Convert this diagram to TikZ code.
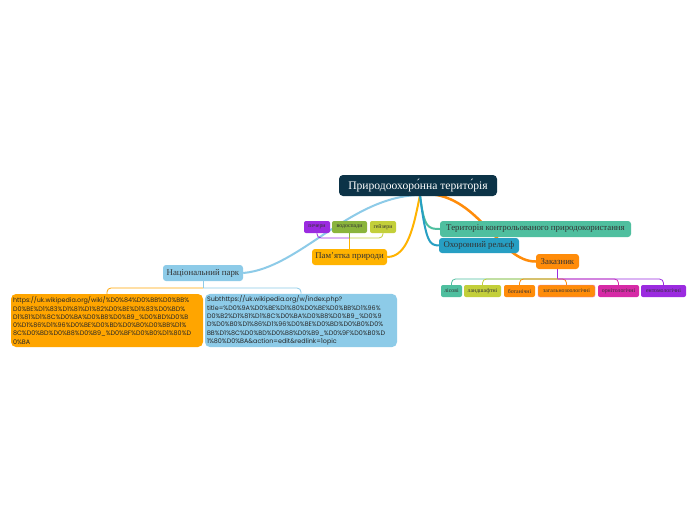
\documentclass[tikz,border=0pt]{standalone}
\usepackage{fontspec}
\usepackage{tikz}
\usetikzlibrary{backgrounds}
\setmainfont{Liberation Serif}
\newfontfamily\linkfont{Poppins}
\definecolor{navyc}{HTML}{0C3347}
\definecolor{tealc}{HTML}{4FBF9F}
\definecolor{bluec}{HTML}{279FC3}
\definecolor{orangec}{HTML}{FF8C0A}
\definecolor{goldc}{HTML}{FFB300}
\definecolor{skyc}{HTML}{8DCBE8}
\definecolor{purplec}{HTML}{9B2BE0}
\definecolor{olivec}{HTML}{8AB43C}
\definecolor{limec}{HTML}{C3CF3A}
\definecolor{magentac}{HTML}{D62AA6}
\definecolor{linkorange}{HTML}{FFA500}

\begin{document}
\begin{tikzpicture}[x=1pt, y=-1pt,
  topic/.style={rounded corners=3pt, minimum height=16pt, inner sep=1pt, font=\fontsize{8.8}{9}\selectfont, text=black!80},
  tag/.style={rounded corners=2pt, minimum height=12pt, inner sep=1pt, font=\fontsize{5.8}{6}\selectfont, text=black!80},
  link/.style={rounded corners=5pt, minimum width=192pt, minimum height=53pt, text width=188pt, align=left, inner sep=2pt, font=\linkfont\fontsize{6.4}{8.3}\selectfont, text=black!85},
  branch/.style={line width=2pt},
  twig/.style={line width=0.8pt, rounded corners=4pt}
]
  \useasboundingbox (0,0) rectangle (697,520);

  % central topic
  \node[fill=navyc, rounded corners=4pt, minimum width=158pt, minimum height=21pt, text=white, font=\fontsize{11.6}{12}\selectfont] (root) at (418,185.5) {Природоохоро́нна терито́рія};

  % right side
  \node[topic, fill=tealc, minimum width=191pt] (terr) at (535.5,229) {Територія контрольованого природокористання};
  \node[topic, fill=bluec, minimum width=80pt, minimum height=15pt] (relief) at (479,245.5) {Охоронний рельєф};
  \node[topic, fill=orangec, minimum width=43pt, minimum height=15pt] (zak) at (557.5,261.5) {Заказник};

  \node[tag, fill=tealc, minimum width=21pt] (forest) at (451.5,291) {лісові};
  \node[tag, fill=limec, minimum width=37pt] (landsc) at (482.5,291) {ландшафтні};
  \node[tag, fill=orangec, minimum width=31pt] (botan) at (519.5,291) {ботанічні};
  \node[tag, fill=orangec, draw=magentac!60, minimum width=57pt] (zool) at (566.5,291) {загальнозоологічні};
  \node[tag, fill=magentac, minimum width=41pt] (ornit) at (618.5,291) {орнітологічні};
  \node[tag, fill=purplec, minimum width=45pt] (entom) at (663.5,291) {ентомологічні};

  % left side
  \node[topic, fill=goldc, minimum width=75pt] (pam) at (349.5,257) {Пам'ятка природи};
  \node[tag, fill=purplec, minimum width=26pt] (caves) at (317,227) {печери};
  \node[tag, fill=olivec, minimum width=35pt] (falls) at (349.5,227) {водоспади};
  \node[tag, fill=limec, minimum width=26pt] (geys) at (383,227) {гейзери};

  \node[topic, fill=skyc, minimum width=80pt] (np) at (203,273) {Національний парк};
  \node[link, fill=linkorange] (link1) at (107,320.5) {https://uk.wikipedia.org/wiki/\%D0\%84\%D0\%BB\%D0\%BB\%\\
D0\%BE\%D1\%83\%D1\%81\%D1\%82\%D0\%BE\%D1\%83\%D0\%BD\%\\
D1\%81\%D1\%8C\%D0\%BA\%D0\%B8\%D0\%B9\_\%D0\%BD\%D0\%B\\
0\%D1\%86\%D1\%96\%D0\%BE\%D0\%BD\%D0\%B0\%D0\%BB\%D1\%\\
8C\%D0\%BD\%D0\%B8\%D0\%B9\_\%D0\%BF\%D0\%B0\%D1\%80\%D\\
0\%BA};
  \node[link, fill=skyc] (link2) at (301,320.5) {Subthttps://uk.wikipedia.org/w/index.php?\\
title=\%D0\%9A\%D0\%BE\%D1\%80\%D0\%BE\%D0\%BB\%D1\%96\%\\
D0\%B2\%D1\%81\%D1\%8C\%D0\%BA\%D0\%B8\%D0\%B9\_\%D0\%9\\
D\%D0\%B0\%D1\%86\%D1\%96\%D0\%BE\%D0\%BD\%D0\%B0\%D0\%\\
BB\%D1\%8C\%D0\%BD\%D0\%B8\%D0\%B9\_\%D0\%9F\%D0\%B0\%D\\
1\%80\%D0\%BA\&action=edit\&redlink=1opic};

  \begin{scope}[on background layer]
    \fill[white] (0,0) rectangle (697,520);
    \coordinate (hub) at (420,195);
    \coordinate (hubr) at (428,194);
    % main branches
    \draw[branch, skyc] (hub) .. controls (350,196) and (300,268) .. (np.east);
    \draw[branch, goldc] (hub) .. controls (414,225) and (408,257) .. (pam.east);
    \draw[branch, tealc] (hub) .. controls (424,228) and (428,229) .. (terr.west);
    \draw[branch, bluec] (hub) .. controls (426,244) and (430,245) .. (relief.west);
    \draw[line width=2.5pt, orangec] (hubr) .. controls (480,196) and (500,262) .. (zak.west);

    % Pam'yatka tags
    \coordinate (pamfork) at (349.5,238);
    \draw[twig, goldc] (pam.north) -- (pamfork);
    \draw[twig, purplec] (pamfork) -| (caves.south);
    \draw[twig, olivec] (pamfork) -- (falls.south);
    \draw[twig, limec] (pamfork) -| (geys.south);

    % Zakaznyk tags
    \coordinate (zakfork) at (557.5,279);
    \draw[twig, purplec] (zak.south) -- (zakfork);
    \draw[twig, tealc] (zakfork) -| (forest.north);
    \draw[twig, limec] (zakfork) -| (landsc.north);
    \draw[twig, orangec] (zakfork) -| (botan.north);
    \draw[twig, orangec] (zakfork) -| (zool.north);
    \draw[twig, magentac] (zakfork) -| (ornit.north);
    \draw[twig, purplec] (zakfork) -| (entom.north);

    % park links
    \coordinate (npfork) at (203,288);
    \draw[twig, skyc] (np.south) -- (npfork);
    \draw[twig, linkorange] (npfork) -| (link1.north);
    \draw[twig, skyc] (npfork) -| (link2.north);
  \end{scope}
\end{tikzpicture}
\end{document}
